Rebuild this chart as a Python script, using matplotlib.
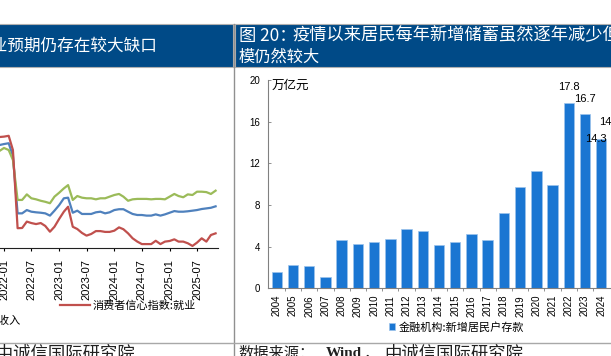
import numpy as np
import pandas as pd
import matplotlib
matplotlib.use('Agg')
from matplotlib import pyplot as plt
import matplotlib.dates as mdates
from matplotlib.patches import Rectangle
from matplotlib.lines import Line2D

plt.rcParams['font.family'] = ['Noto Sans CJK SC', 'DejaVu Sans']
plt.rcParams['axes.unicode_minus'] = False

W, H = 611, 356

# 左图: 消费者信心指数 (月度, 2021-11 ~ 2025-11)
months = pd.date_range('2021-11-01', '2025-11-01', freq='MS')
cci_employ = [123.8, 123.8, 124.0, 124.4, 117.5, 79.6, 79.7, 82.8, 82.1, 81.6, 82.1, 80.7, 77.9,
              80.3, 84.1, 87.6, 90.0, 80.3, 79.2, 77.3, 76.0, 76.8, 78.2, 78.2, 77.8, 77.8, 78.4,
              80.0, 79.1, 77.1, 74.7, 73.1, 71.9, 71.9, 71.9, 73.5, 71.9, 73.1, 73.4, 74.2, 73.1,
              73.1, 72.3, 71.0, 72.6, 74.7, 73.1, 76.3, 77.1]
cci_total = [119.4, 119.9, 120.4, 120.8, 114.6, 86.8, 86.8, 88.4, 87.6, 87.3, 87.1, 86.8, 85.7,
             88.1, 90.8, 94.1, 94.4, 87.1, 88.1, 86.5, 86.5, 86.5, 87.3, 87.6, 86.8, 87.3, 88.4,
             88.8, 88.8, 87.6, 86.5, 86.0, 86.0, 85.7, 85.7, 86.3, 85.7, 86.3, 87.1, 87.9, 87.6,
             87.6, 87.8, 88.1, 88.4, 88.9, 89.2, 89.5, 90.2]
cci_income = [116.5, 117.0, 118.5, 117.5, 112.7, 93.3, 93.3, 96.0, 94.1, 93.6, 92.9, 92.4, 91.7,
              94.9, 96.8, 98.9, 100.5, 93.3, 95.2, 94.4, 94.1, 94.1, 93.6, 94.1, 94.1, 94.9, 95.7,
              96.2, 94.9, 92.9, 93.6, 93.8, 93.8, 93.8, 93.6, 93.8, 93.8, 93.6, 94.9, 96.2, 95.2,
              94.6, 96.0, 95.7, 97.3, 97.3, 97.1, 96.2, 97.8]

# 右图: 金融机构新增居民户存款 (万亿元)
years = [str(y) for y in range(2004, 2025)]
deposits = [1.6, 2.2, 2.1, 1.1, 4.6, 4.3, 4.4, 4.7, 5.7, 5.5, 4.2, 4.4, 5.2, 4.6, 7.2, 9.7,
            11.3, 9.9, 17.8, 16.7, 14.3]

fig = plt.figure(figsize=(W / 100, H / 100), dpi=100)

def fx(x):
    return x / W

def fy(y):
    return 1 - y / H

# 标题栏
fig.add_artist(Rectangle((fx(-2), fy(67)), fx(234.5), 43 / H, facecolor='#004A87',
                         edgecolor='#B0B0B0', linewidth=0.8, transform=fig.transFigure))
fig.add_artist(Rectangle((fx(234.5), fy(67)), fx(380), 43 / H, facecolor='#004A87',
                         edgecolor='#B0B0B0', linewidth=0.8, transform=fig.transFigure))
fig.add_artist(Line2D([fx(233.5), fx(233.5)], [fy(24), fy(360)], color='#909090',
                      linewidth=1.0, transform=fig.transFigure))
fig.add_artist(Line2D([0, 1], [fy(342.7), fy(342.7)], color='#A8A8A8',
                      linewidth=1.0, transform=fig.transFigure))

fig.text(fx(157), fy(46), '就业预期仍存在较大缺口', color='white', fontsize=12,
         ha='right', va='center')
fig.text(fx(239), fy(35.5), '图 20：', color='white', fontsize=12.4, ha='left', va='center')
fig.text(fx(292.7), fy(35.5), '疫情以来居民每年新增储蓄虽然逐年减少但', color='white',
         fontsize=12.4, ha='left', va='center')
fig.text(fx(239), fy(57.5), '模仍然较大', color='white', fontsize=11.7, ha='left', va='center')

# 数据来源
fig.text(fx(135), fy(353.5), '数据来源：Wind，中诚信国际研究院', fontsize=12.5,
         ha='right', va='center', color='#202020')
fig.text(fx(238), fy(353.5), '数据来源：', fontsize=11, ha='left', va='center', color='#202020')
fig.text(fx(326), fy(353.5), 'Wind', fontsize=11, ha='left', va='center', color='#202020',
         fontweight='bold', fontfamily=['Liberation Serif', 'DejaVu Serif'])
fig.text(fx(364), fy(353.5), '，', fontsize=11, ha='left', va='center', color='#202020')
fig.text(fx(384), fy(353.5), '中诚信国际研究院', fontsize=12.5, ha='left', va='center',
         color='#202020')

# ---- 左图 ----
px_day = 193 / 1277
x_lo = pd.Timestamp('2021-10-15')
x_hi = pd.Timestamp('2025-11-16')
left_px = 4 - (pd.Timestamp('2022-01-01') - x_lo).days * px_day
right_px = 197 + (x_hi - pd.Timestamp('2025-07-01')).days * px_day
ax1 = fig.add_axes([fx(left_px), fy(248), (right_px - left_px) / W, 165 / H])
l_total, = ax1.plot(months, cci_total, color='#4F81BD', linewidth=1.6)
l_income, = ax1.plot(months, cci_income, color='#9BBB59', linewidth=1.6)
l_employ, = ax1.plot(months, cci_employ, color='#C0504D', linewidth=1.6)
ax1.set_xlim(x_lo, x_hi)
ax1.set_ylim(70, 150)
ax1.xaxis.set_major_locator(mdates.MonthLocator(bymonth=[1, 7]))
ax1.xaxis.set_major_formatter(mdates.DateFormatter('%Y-%m'))
for s in ['top', 'right', 'left']:
    ax1.spines[s].set_visible(False)
ax1.spines['bottom'].set_color('#202020')
ax1.spines['bottom'].set_linewidth(0.8)
ax1.set_yticks([])
ax1.tick_params(axis='x', direction='out', length=2.5, width=0.8, pad=5.5,
                labelsize=8, labelrotation=90)
for t in ax1.get_xticklabels():
    t.set_fontfamily(['Liberation Sans', 'DejaVu Sans'])
ax1.patch.set_alpha(0)

fig.legend(handles=[l_employ], labels=['消费者信心指数:就业'], loc='center left',
           bbox_to_anchor=(fx(60), fy(306)), frameon=False, borderpad=0, borderaxespad=0,
           handlelength=2.7, handletextpad=0.27, fontsize=8)
fig.legend(handles=[l_income], labels=['消费者信心指数:收入'], loc='center right',
           bbox_to_anchor=(fx(21), fy(321)), frameon=False, borderpad=0, borderaxespad=0,
           handlelength=2.7, handletextpad=0.27, fontsize=8)

# ---- 右图 ----
xs = np.arange(len(years))
ax2 = fig.add_axes([fx(268.3), fy(288.3), 341.9 / W, 208.3 / H])
bars = ax2.bar(xs, deposits, width=0.64, color='#1A76D2', edgecolor='#9CC4EC',
               linewidth=0.5, label='金融机构:新增居民户存款')
ax2.set_xlim(-0.52, 20.55)
ax2.set_ylim(0, 20)
ax2.set_yticks([0, 4, 8, 12, 16, 20])
ax2.set_xticks(xs)
ax2.set_xticklabels(years, rotation=90, fontsize=7, fontfamily=['Liberation Sans', 'DejaVu Sans'])
ax2.set_xticks(xs[:-1] + 0.5, minor=True)
for t in ax2.get_yticklabels():
    t.set_fontfamily(['Liberation Sans', 'DejaVu Sans'])
ax2.tick_params(axis='y', direction='in', length=2.5, width=0.6, color='#808080',
                labelsize=7, pad=6)
ax2.tick_params(axis='x', which='major', length=0, pad=4.8)
ax2.tick_params(axis='x', which='minor', direction='out', length=2, width=0.6, color='#808080')
for s in ['top', 'right']:
    ax2.spines[s].set_visible(False)
for s in ['left', 'bottom']:
    ax2.spines[s].set_color('#808080')
    ax2.spines[s].set_linewidth(0.8)
ax2.patch.set_alpha(0)
ax2.text(0.011, 0.976, '万亿元', transform=ax2.transAxes, fontsize=9, ha='left', va='center')

label_font = ['Liberation Sans', 'DejaVu Sans']
for i, dx, dy in [(18, 0, 11.5), (19, 0, 11), (20, -3.6, 0)]:
    ax2.annotate(f'{deposits[i]:.1f}', (xs[i], deposits[i]), xytext=(dx, dy),
                 textcoords='offset points', ha='center', va='center', fontsize=8,
                 fontfamily=label_font)
ax2.annotate('14', (xs[20], deposits[20]), xytext=(-1.7, 12.2), textcoords='offset points',
             ha='left', va='center', fontsize=8, fontfamily=label_font)

fig.legend(handles=[bars], labels=['金融机构:新增居民户存款'], loc='center left',
           bbox_to_anchor=(fx(389), fy(327.3)), frameon=False, borderpad=0, borderaxespad=0,
           handlelength=0.55, handleheight=0.55, handletextpad=0.35, fontsize=8)

fig.savefig('out.png', dpi=100)
